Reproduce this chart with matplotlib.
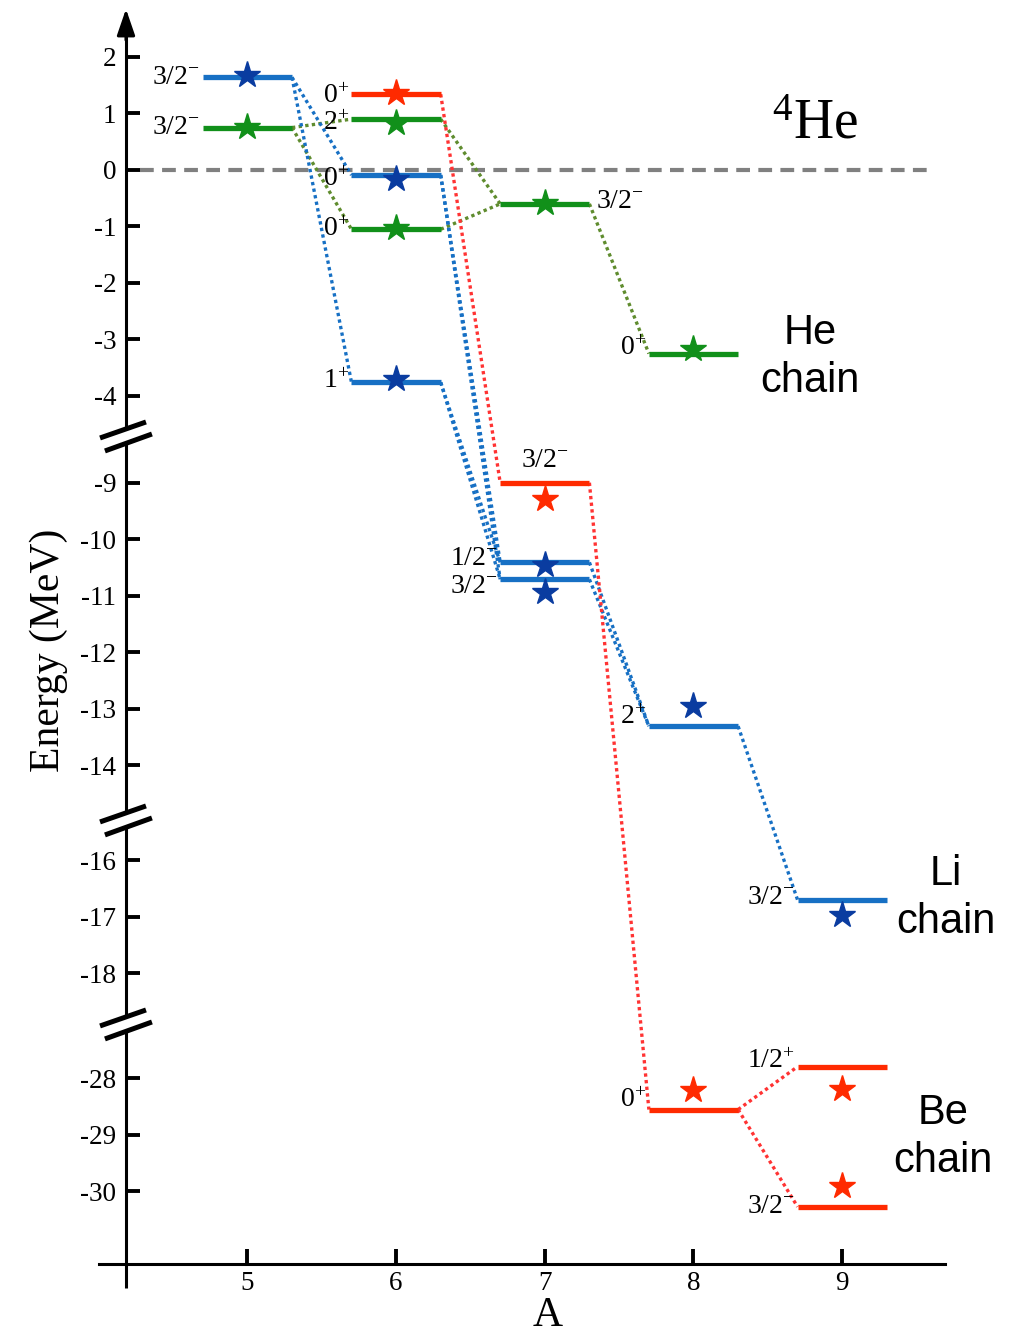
import numpy as np
import matplotlib
matplotlib.use("Agg")
import matplotlib.pyplot as plt

plt.rcParams['font.family'] = 'Liberation Serif'
plt.rcParams['mathtext.fontset'] = 'custom'
plt.rcParams['mathtext.rm'] = 'Liberation Serif'
plt.rcParams['mathtext.it'] = 'Liberation Serif:italic'
plt.rcParams['axes.unicode_minus'] = False

# He chain (green): levels, J^pi, experiment (stars), links between levels
he_A = [5, 6, 6, 7, 8]
he_E = [0.75, 0.90, -1.05, -0.60, -3.25]
he_J = ['3/2-', '2+', '0+', '3/2-', '0+']
he_exp = [0.76, 0.83, -1.02, -0.58, -3.16]
he_links = [(0, 1), (0, 2), (1, 3), (2, 3), (3, 4)]

# Li chain (blue)
li_A = [5, 6, 6, 7, 7, 8, 9]
li_E = [1.64, -0.09, -3.76, -10.41, -10.71, -13.31, -16.70]
li_J = ['3/2-', '0+', '1+', '1/2-', '3/2-', '2+', '3/2-']
li_exp = [1.68, -0.16, -3.70, -10.46, -10.94, -12.96, -16.97]
li_links = [(0, 1), (0, 2), (1, 3), (1, 4), (2, 3), (2, 4), (3, 5), (4, 5), (5, 6)]

# Be chain (red)
be_A = [6, 7, 8, 9, 9]
be_E = [1.34, -9.00, -28.55, -27.79, -30.27]
be_J = ['0+', '3/2-', '0+', '1/2+', '3/2-']
be_exp = [1.37, -9.28, -28.21, -28.18, -29.91]
be_links = [(0, 1), (1, 2), (2, 3), (2, 4)]

yticks = [2, 1, 0, -1, -2, -3, -4, -9, -10, -11, -12, -13, -14,
          -16, -17, -18, -28, -29, -30]
xticks = [5, 6, 7, 8, 9]

# label placement: (side, vertical offset in points)
he_lab = [('L', 0), ('L', -3.5), ('L', 0), ('R', 2), ('L', 3.5)]
li_lab = [('L', 0), ('L', -3.5), ('L', 1), ('L', 3), ('L', -5), ('L', 6), ('L', 1.5)]
be_lab = [('L', -1.5), ('T', 16), ('L', 6.5), ('L', 4), ('L', 0)]

# broken energy axis: every piece is shifted by a constant, the gaps are squeezed out
shift = [0.0, 3.465, 3.78, 11.92]
cuts = [-4.708, -11.504, -15.115]
edges = [10.0] + cuts + [-60.0]
Ek, tk = [], []
for i in range(4):
    top, bot = edges[i], edges[i + 1]
    tk += [bot, top]
    Ek += [bot - shift[i], top - shift[i]]
order = np.argsort(Ek)
Ek = np.array(Ek)[order]
tk = np.array(tk)[order] + np.arange(len(Ek)) * 1e-4

def fwd(e):
    return np.interp(e, Ek, tk)

def inv(t):
    return np.interp(t, tk, Ek)

fig = plt.figure(figsize=(10.28, 13.35), dpi=100)
ax = fig.add_axes([0, 0, 1, 1])
ax.set_yscale('function', functions=(fwd, inv))
ax.set_xlim(3.3363, 10.2495)
ax.set_ylim(inv(-20.62), inv(3.009))

x0 = 4.1836
ax.spines['top'].set_visible(False)
ax.spines['right'].set_visible(False)
ax.spines['left'].set_position(('data', x0))
ax.spines['left'].set_color('none')
ax.spines['bottom'].set_position(('data', float(inv(-19.363))))
ax.spines['bottom'].set_bounds(4.002, 9.691)
ax.spines['bottom'].set_linewidth(2.2)

ax.set_yticks(yticks, [str(v) for v in yticks])
ax.set_xticks(xticks, [str(v) for v in xticks])
ax.tick_params(axis='y', direction='in', length=10, width=2.8, pad=7, labelsize=19.5)
ax.tick_params(axis='x', direction='in', length=11, width=2.8, pad=5, labelsize=19.5)
ax.set_facecolor('white')

# y axis with gaps, arrow and break marks
tb, ttop = -19.79, 2.40
pieces = [(tb, cuts[2] - 0.124), (cuts[2] + 0.124, cuts[1] - 0.124),
          (cuts[1] + 0.124, cuts[0] - 0.124), (cuts[0] + 0.124, ttop)]
for a, b in pieces:
    ax.plot([x0, x0], inv(np.array([a, b])), color='k', lw=2.2,
            solid_capstyle='butt', clip_on=False)
ax.annotate('', xy=(x0, inv(2.85)), xytext=(x0, inv(2.30)),
            arrowprops=dict(arrowstyle='-|>,head_length=1.6,head_width=0.55',
                            color='k', lw=2.2, shrinkA=0, shrinkB=0))
for c in cuts:
    ax.plot([4.009, 4.318], inv(c + np.array([-0.035, 0.248])), color='k', lw=3.6,
            solid_capstyle='butt')
    ax.plot([4.042, 4.358], inv(c + np.array([-0.265, 0.035])), color='k', lw=3.6,
            solid_capstyle='butt')

# zero line = 4He threshold
ax.plot([4.278, 9.591], [0, 0], color='#808080', lw=3, ls=(0, (3.3, 2)), zorder=1)

hw = 0.30

def fmt(j):
    return '$%s^{%s}$' % (j[:-1], j[-1])

def chain(A, E, J, exp, links, lab, bar_c, link_c, star_c):
    A = np.array(A, dtype=float)
    E = np.array(E, dtype=float)
    for i, k in links:
        ax.plot([A[i] + hw, A[k] - hw], [E[i], E[k]], color=link_c, lw=2.4,
                ls=(0, (1, 1)), zorder=2)
    ax.hlines(E, A - hw, A + hw, color=bar_c, lw=3.8, zorder=3)
    ax.plot(A, exp, '*', ms=20, color=star_c, mec=star_c, zorder=4, ls='none')
    for a, e, j, (side, dy) in zip(A, E, J, lab):
        if side == 'L':
            ax.annotate(fmt(j), (a - hw, e), xytext=(-2, dy), textcoords='offset points',
                        ha='right', va='center', fontsize=20)
        elif side == 'R':
            ax.annotate(fmt(j), (a + hw, e), xytext=(5, dy), textcoords='offset points',
                        ha='left', va='center', fontsize=20)
        else:
            ax.annotate(fmt(j), (a, e), xytext=(0, dy), textcoords='offset points',
                        ha='center', va='center', fontsize=20)

chain(he_A, he_E, he_J, he_exp, he_links, he_lab, '#11901a', '#5f8c2e', '#11901a')
chain(li_A, li_E, li_J, li_exp, li_links, li_lab, '#1770c4', '#1770c4', '#0a3ca0')
chain(be_A, be_E, be_J, be_exp, be_links, be_lab, '#ff2a00', '#ff3333', '#ff2a00')

# texts
ax.text(8.817, 0.80, r'$^{4}\mathrm{He}$', ha='center', va='center', fontsize=40)
ax.text(8.784, -3.31, 'He\nchain', ha='center', va='center', fontsize=30,
        family='Liberation Sans', linespacing=1.25)
ax.text(9.699, -16.665, 'Li\nchain', ha='center', va='center', fontsize=30,
        family='Liberation Sans', linespacing=1.25)
ax.text(9.679, -29.035, 'Be\nchain', ha='center', va='center', fontsize=30,
        family='Liberation Sans', linespacing=1.25)
ax.text(0.047, 0.513, 'Energy (MeV)', rotation=90, transform=ax.transAxes,
        ha='center', va='center', fontsize=30)
ax.text(0.533, 0.0, 'A', transform=ax.transAxes, ha='center', va='bottom', fontsize=30)

fig.savefig('out.png', dpi=100)
